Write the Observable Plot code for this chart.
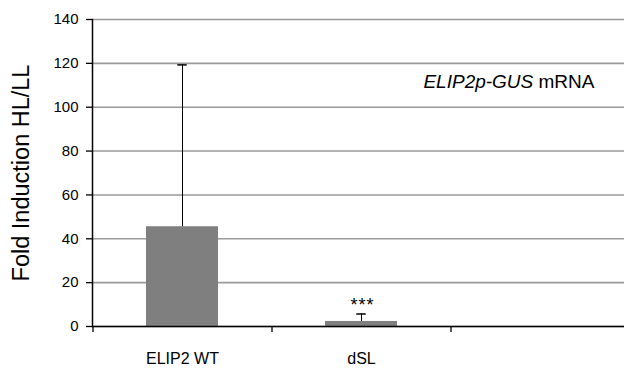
<!DOCTYPE html>
<html>
<head>
<meta charset="utf-8">
<script src="https://cdn.jsdelivr.net/npm/d3@7"></script>
<script src="https://cdn.jsdelivr.net/npm/@observablehq/plot@0.6"></script>
<style>
  html, body { margin: 0; padding: 0; background: #fff; }
  #chart { width: 624px; height: 368px; overflow: hidden; }
</style>
</head>
<body>
<div id="chart"></div>
<script>
const categories = ["ELIP2 WT", "dSL", " "];
const values = [45.5, 2.3];
const errors = [73.8, 3.4];
const significance = ["", "***"];
const yTicks = [0, 20, 40, 60, 80, 100, 120, 140];
const yLabel = "Fold Induction HL/LL";
const noteItalic = "ELIP2p-GUS";
const noteRoman = " mRNA";

const data = values.map((v, i) => ({cat: categories[i], value: v, err: errors[i], sig: significance[i]}));

const font = "'Liberation Sans', Arial, Helvetica, sans-serif";
const W = 624, H = 368;
const xRange = [92, 629];
const step = (xRange[1] - xRange[0]) / categories.length;
const bandwidth = step * 0.4;
const capWidth = 9;

const chart = Plot.plot({
  width: W,
  height: H,
  marginLeft: 92,
  marginRight: 0,
  marginTop: 19,
  marginBottom: 42,
  style: {fontFamily: font, background: "#fff", color: "#000", overflow: "visible"},
  x: {domain: categories, range: xRange, paddingInner: 0.6, paddingOuter: 0.3, axis: null},
  y: {domain: [0, 140], axis: null},
  marks: [
    Plot.gridY(yTicks, {stroke: "#9a9a9a", strokeOpacity: 1, strokeWidth: 1.6}),
    Plot.barY(data, {x: "cat", y: "value", fill: "#7f7f7f"}),
    Plot.ruleX(data, {x: "cat", y1: "value", y2: d => d.value + d.err, stroke: "#000", strokeWidth: 1}),
    Plot.tickY(data, {x: "cat", y: d => d.value + d.err, stroke: "#000", strokeWidth: 1.5,
      insetLeft: (bandwidth - capWidth) / 2, insetRight: (bandwidth - capWidth) / 2}),
    Plot.text(data, {x: "cat", y: d => d.value + d.err, text: "sig", dy: -9, dx: 1, fontSize: 18,
      fill: "#000", fontFamily: font}),
    Plot.ruleY([0], {stroke: "#000", strokeWidth: 1.5}),
    Plot.frame({anchor: "left", stroke: "#000", strokeWidth: 1.5}),
    Plot.axisY({ticks: yTicks, tickSize: 6, tickPadding: 8, fontSize: 15, stroke: "#000", strokeWidth: 1.3, label: null}),
    Plot.axisX({tickSize: 6, dx: -step / 2, tickFormat: () => "", stroke: "#000", strokeWidth: 1.3, label: null}),
    Plot.axisX(categories.slice(0, 2), {tickSize: 0, tickPadding: 26, fontSize: 16, label: null}),
    Plot.text([yLabel], {frameAnchor: "left", rotate: -90, dx: -71, fontSize: 23.5, fill: "#000",
      textAnchor: "middle", lineAnchor: "middle"}),
    Plot.text([noteItalic + noteRoman], {frameAnchor: "top-right", dx: -30, dy: 55, fontSize: 19,
      textAnchor: "end", lineAnchor: "top", fill: "#000"})
  ]
});

d3.select(chart).selectAll("text").each(function() {
  if (this.textContent === noteItalic + noteRoman) {
    const t = d3.select(this);
    t.text(null);
    t.append("tspan").attr("font-style", "italic").text(noteItalic);
    t.append("tspan").attr("xml:space", "preserve").text(noteRoman);
  }
  if (this.textContent === "***") {
    this.style.letterSpacing = "1px";
  }
});

document.getElementById("chart").appendChild(chart);
</script>
</body>
</html>
